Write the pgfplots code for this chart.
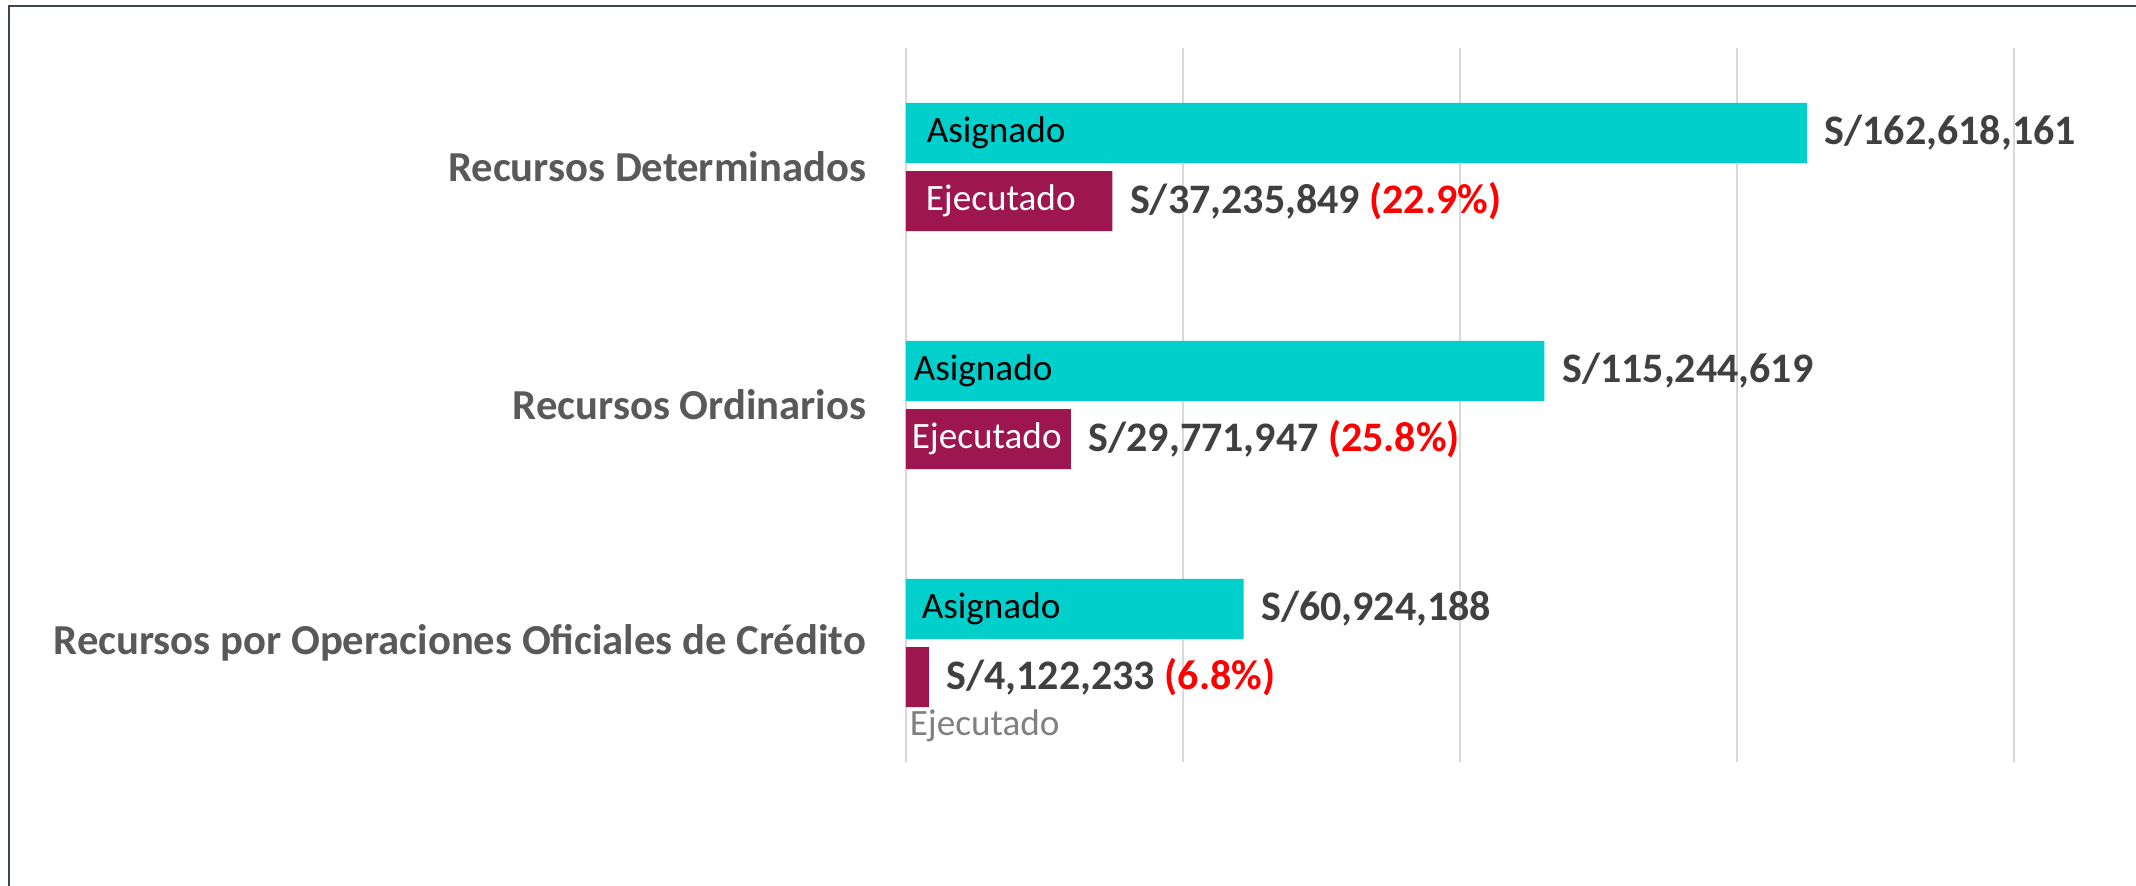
\documentclass[border=0pt]{standalone}
\usepackage{pgfplots}
\pgfplotsset{compat=1.18}
\usepackage{fontspec}
\setmainfont{Carlito}

\definecolor{asig}{HTML}{00CFCC}
\definecolor{ejec}{HTML}{9E1650}
\definecolor{valtxt}{HTML}{404040}
\definecolor{cattxt}{HTML}{595959}
\definecolor{frametxt}{HTML}{3B4456}
\definecolor{gridc}{HTML}{D9D9D9}

\begin{document}
\begin{tikzpicture}
% page = 2136 x 886 px at 0.25pt per px, axis box from (906,762) px
\path[use as bounding box] (-226.5pt,-31pt) rectangle (307.5pt,190.5pt);
\fill[white] (-226.5pt,-31pt) rectangle (307.5pt,190.5pt);
\draw[frametxt, line width=0.5pt] (-224.25pt,-31pt) -- (-224.25pt,189pt) -- (307.5pt,189pt);

\begin{axis}[
    at={(0,0)}, anchor=south west,
    scale only axis,
    width=277pt, height=178.5pt,
    xbar,
    xmin=0, xmax=200,
    ymin=-0.5, ymax=2.5,
    bar width=0.252,
    xtick={0,50,100,150,200},
    xticklabels={},
    xmajorgrids,
    grid style={gridc, line width=0.5pt},
    ytick={0,1,2},
    yticklabels={Recursos por Operaciones Oficiales de Crédito, Recursos Ordinarios, Recursos Determinados},
    yticklabel style={font=\bfseries\fontsize{10.67}{12}\selectfont, text=cattxt, inner sep=0pt, xshift=-9.75pt},
    major tick length=0pt,
    axis line style={draw=none},
    point meta=explicit symbolic,
    nodes near coords,
    nodes near coords style={font=\bfseries\fontsize{10.5}{12}\selectfont, text=valtxt, anchor=west, inner sep=0pt, xshift=4.25pt},
    clip=false,
]
    % Asignado (millones de soles)
    \addplot[fill=asig, draw=none, bar shift=0.143] coordinates {
        (162.618161,2) [S/162,618,161]
        (115.244619,1) [S/115,244,619]
        (60.924188,0) [S/60,924,188]
    };
    % Ejecutado
    \addplot[fill=ejec, draw=none, bar shift=-0.143] coordinates {
        (37.235849,2) [S/37,235,849 \textcolor{red}{(22.9\%)}]
        (29.771947,1) [S/29,771,947 \textcolor{red}{(25.8\%)}]
        (4.122233,0) [S/4,122,233 \textcolor{red}{(6.8\%)}]
    };

    \begin{scope}[every node/.style={anchor=west, inner sep=0pt, font=\fontsize{9.3}{11}\selectfont}]
    \node[xshift=5pt] at (axis cs:0,2.143) {Asignado};
    \node[xshift=4.75pt, text=white] at (axis cs:0,1.857) {Ejecutado};
    \node[xshift=1.75pt] at (axis cs:0,1.143) {Asignado};
    \node[xshift=1.25pt, text=white] at (axis cs:0,0.857) {Ejecutado};
    \node[xshift=3.75pt] at (axis cs:0,0.143) {Asignado};
    \node[xshift=0.75pt, text=gray] at (axis cs:0,-0.349) {Ejecutado};
    \end{scope}
\end{axis}
\end{tikzpicture}
\end{document}
